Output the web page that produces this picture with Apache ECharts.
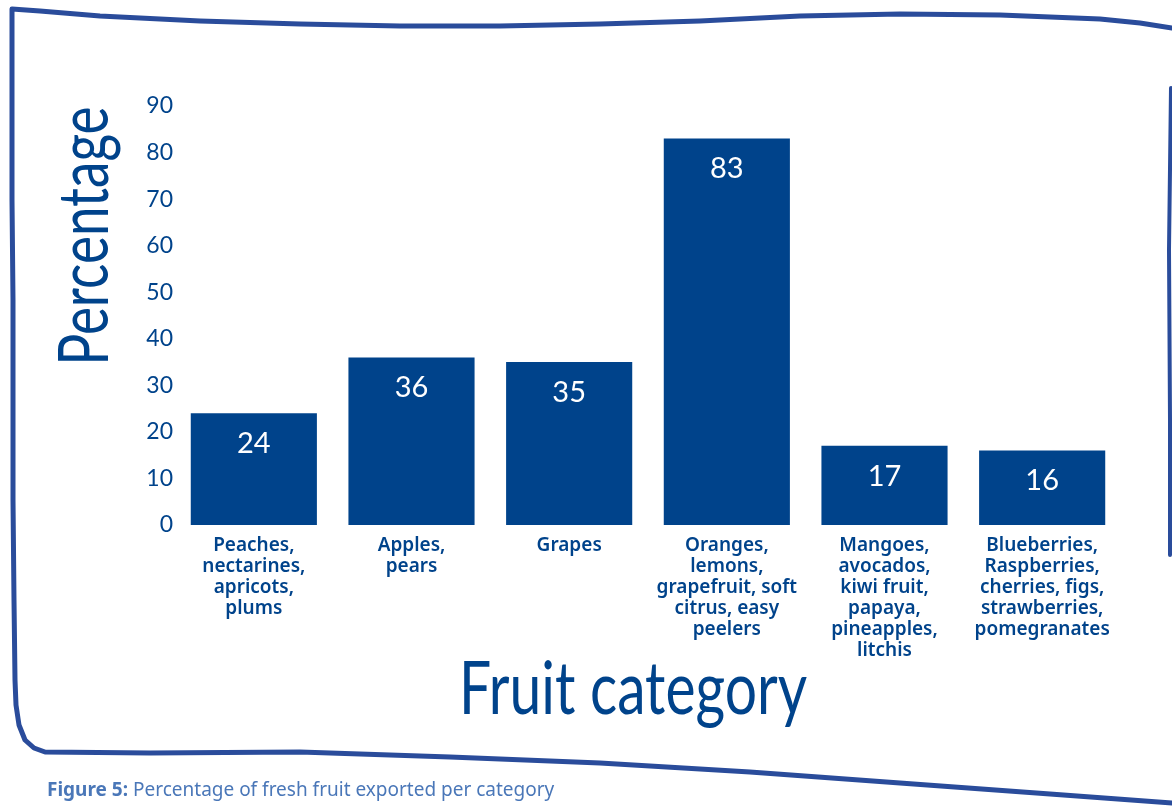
<!DOCTYPE html>
<html>
<head>
<meta charset="utf-8">
<script src="https://cdn.jsdelivr.net/npm/echarts@6/dist/echarts.min.js"></script>
<style>
html,body{margin:0;padding:0;background:#fff;}
#chart{width:1172px;height:807px;}
</style>
</head>
<body>
<div id="chart"></div>
<script>
const categories = [
  "Peaches,\nnectarines,\napricots,\nplums",
  "Apples,\npears",
  "Grapes",
  "Oranges,\nlemons,\ngrapefruit, soft\ncitrus, easy\npeelers",
  "Mangoes,\navocados,\nkiwi fruit,\npapaya,\npineapples,\nlitchis",
  "Blueberries,\nRaspberries,\ncherries, figs,\nstrawberries,\npomegranates"
];
const percentages = [24, 36, 35, 83, 17, 16];
const yTicks = { min: 0, max: 90, interval: 10 };
const yTitle = "Percentage";
const xTitle = "Fruit category";
const captionBold = "Figure 5:";
const captionText = " Percentage of fresh fruit exported per category";

const BLUE = "#00438b";
const BORDER = "#2a4c9b";

const chart = echarts.init(document.getElementById('chart'));

const borderMain = [
  [1172,28],[1140,23],[1100,19],[1000,15],[900,14],[800,16],[700,21],[600,24],[500,26],[400,26],[300,24],[200,21],[100,16],[40,11],[12,9],
  [12,100],[12,200],[13,300],[13,400],[13,500],[14,600],[15,680],[16,705],[19,725],[25,740],[34,748],[45,752],[150,753],[300,752],[450,757],[600,763],
  [750,772],[900,783],[1050,794],[1172,803]
];
const borderRight = [[1171,88],[1169,250],[1170,420],[1170,555]];

chart.setOption({
  animation: false,
  grid: { left: 175, right: 51, top: 106, bottom: 282, containLabel: false },
  xAxis: {
    type: 'category',
    data: categories,
    axisLine: { show: false },
    axisTick: { show: false },
    axisLabel: {
      interval: 0,
      margin: 10,
      color: BLUE,
      fontFamily: 'Noto Sans',
      fontWeight: 600,
      fontSize: 19,
      lineHeight: 21,
      align: 'center',
      verticalAlign: 'top'
    }
  },
  yAxis: {
    type: 'value',
    min: yTicks.min,
    max: yTicks.max,
    interval: yTicks.interval,
    splitLine: { show: false },
    axisLine: { show: false },
    axisTick: { show: false },
    axisLabel: {
      margin: 2,
      color: BLUE,
      fontFamily: 'Lato',
      fontSize: 23,
      padding: [0, 0, 12, 0]
    }
  },
  series: [{
    type: 'bar',
    data: percentages,
    barCategoryGap: '20%',
    itemStyle: { color: BLUE },
    label: {
      show: true,
      position: 'insideTop',
      distance: 16,
      color: '#fff',
      fontFamily: 'Lato',
      fontSize: 29
    }
  }],
  graphic: [
    {
      type: 'polyline', silent: true,
      shape: { points: borderMain, smooth: 0 },
      style: { stroke: BORDER, lineWidth: 5, fill: null, lineJoin: 'round', lineCap: 'round' }
    },
    {
      type: 'polyline', silent: true,
      shape: { points: borderRight, smooth: 0 },
      style: { stroke: BORDER, lineWidth: 4, fill: null, lineCap: 'round' }
    },
    {
      type: 'text', silent: true,
      x: 86, y: 236, rotation: Math.PI / 2, scaleX: 1, scaleY: 1.3,
      style: {
        text: yTitle, fill: BLUE, fontFamily: 'Lato', fontSize: 53,
        align: 'center', verticalAlign: 'middle'
      }
    },
    {
      type: 'text', silent: true,
      x: 633, y: 690, scaleX: 1, scaleY: 1.3,
      style: {
        text: xTitle, fill: BLUE, fontFamily: 'Lato', fontSize: 57,
        align: 'center', verticalAlign: 'middle'
      }
    },
    {
      type: 'text', silent: true,
      x: 47, y: 791,
      style: {
        text: '{b|' + captionBold + '}{r|' + captionText + '}',
        verticalAlign: 'middle',
        rich: {
          b: { fill: '#4a77b8', fontFamily: 'Noto Sans', fontWeight: 'bold', fontSize: 19 },
          r: { fill: '#4a77b8', fontFamily: 'Noto Sans', fontSize: 19 }
        }
      }
    }
  ]
});
</script>
</body>
</html>
